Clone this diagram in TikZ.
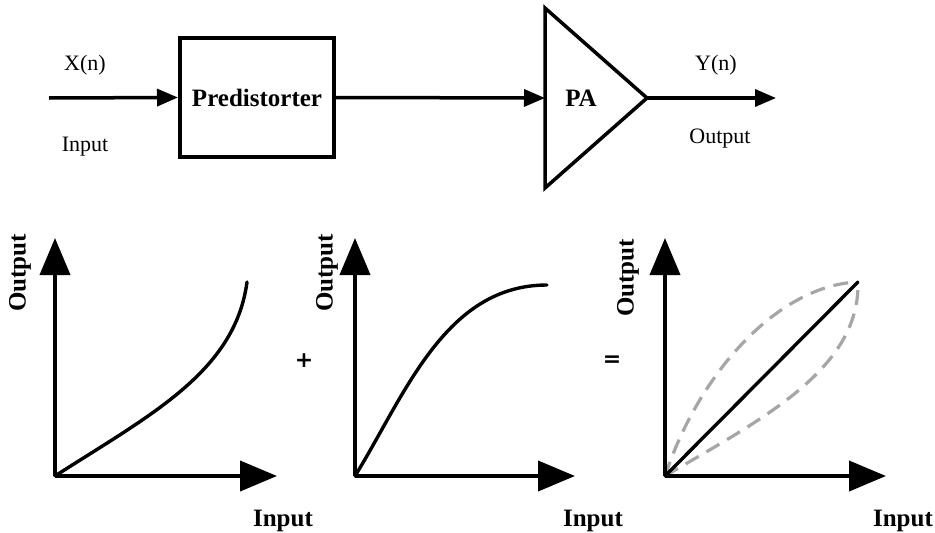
\documentclass[tikz,border=0pt]{standalone}
\usepackage{fontspec}
\setmainfont{Liberation Serif}
\newfontfamily\symfont{DejaVu Sans}
\usetikzlibrary{arrows.meta}
\begin{document}
\begin{tikzpicture}[x=1pt,y=-1pt,
  sig/.style={line width=3.5pt,-{Triangle[length=21pt,width=17pt]}},
  axis/.style={line width=4pt,-{Triangle[length=37pt,width=30pt]}},
  crv/.style={line width=3.4pt,line cap=round},
  dcrv/.style={line width=3.2pt,color=black!35,dash pattern=on 15pt off 9pt},
  lbl/.style={font=\fontsize{22}{24}\selectfont,inner sep=0pt},
  blbl/.style={font=\bfseries\fontsize{25}{27}\selectfont,inner sep=0pt},
  oplbl/.style={font=\symfont\bfseries\fontsize{22}{24}\selectfont,inner sep=0pt},
  blockbox/.style={draw,line width=4pt,minimum width=154pt,minimum height=119pt,inner sep=0pt,font=\bfseries\fontsize{25}{27}\selectfont}]
\useasboundingbox[fill=white] (0,0) rectangle (935,533);

% ---- top chain ----
\node[blockbox] (pred) at (257,97.5) {Predistorter};
\coordinate (xin) at (49,98);
\coordinate (paTop) at (545,8);
\coordinate (paBot) at (545,188);
\coordinate (paIn) at (545,98);
\coordinate (paOut) at (647,98);
\coordinate (yout) at (776,98);
\draw[line width=3.5pt,line join=miter] (paTop) -- (paOut) -- (paBot) -- cycle;
\node[font=\bfseries\fontsize{25}{27}\selectfont,inner sep=0pt] (pa) at (581,98) {PA};
\draw[sig] (xin) -- (pred.west);
\draw[sig] (pred.east) -- (paIn);
\draw[sig] (paOut) -- (yout);
\node[lbl] (xn) at (85,65) {X(n)};
\node[lbl] (inp) at (85,147) {Input};
\node[lbl] (yn) at (716,65) {Y(n)};
\node[lbl] (outp) at (720,139) {Output};

% ---- graph 1 ----
\coordinate (o1) at (55,476);
\coordinate (ya1) at (55,238);
\coordinate (xa1) at (277,476);
\coordinate (e1) at (247,282);
\draw[axis] (o1) -- (ya1);
\draw[axis] (o1) -- (xa1);
\draw[crv] (o1) .. controls (150,415) and (235,372) .. (e1);
\node[blbl,rotate=90] (out1) at (20,273) {Output};
\node[blbl] (in1) at (283,521) {Input};
\node[oplbl] (plus) at (304,361) {+};

% ---- graph 2 ----
\coordinate (o2) at (355,476);
\coordinate (ya2) at (355,238);
\coordinate (xa2) at (575,476);
\coordinate (e2) at (547,285);
\draw[axis] (o2) -- (ya2);
\draw[axis] (o2) -- (xa2);
\draw[crv] (o2) .. controls (405,395) and (445,285) .. (e2);
\node[blbl,rotate=90] (out2) at (327,273) {Output};
\node[blbl] (in2) at (593,521) {Input};
\node[oplbl] (eq) at (612,361) {=};

% ---- graph 3 ----
\coordinate (o3) at (665,476);
\coordinate (ya3) at (665,238);
\coordinate (xa3) at (886,476);
\coordinate (e3) at (858,282);
\draw[dcrv] (o3) .. controls (700,370) and (780,285) .. (e3);
\draw[dcrv] (o3) .. controls (760,420) and (860,370) .. (e3);
\draw[axis] (o3) -- (ya3);
\draw[axis] (o3) -- (xa3);
\draw[crv] (o3) -- (e3);
\node[blbl,rotate=90] (out3) at (628,278) {Output};
\node[blbl] (in3) at (903,521) {Input};
\end{tikzpicture}
\end{document}
